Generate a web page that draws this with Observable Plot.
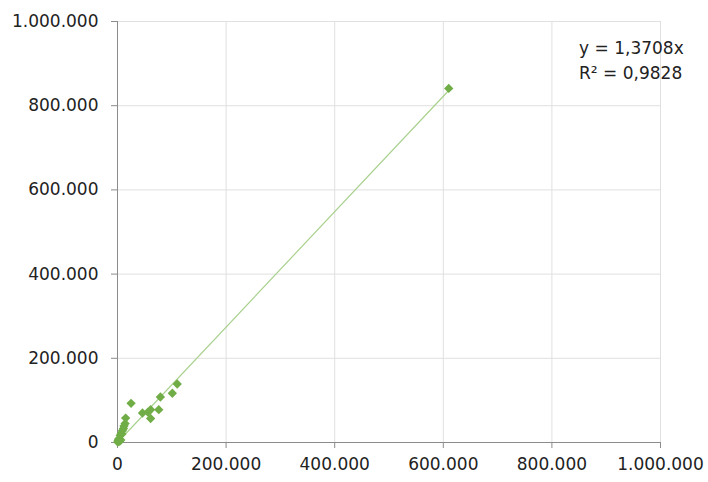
<!DOCTYPE html>
<html>
<head>
<meta charset="utf-8">
<script src="https://cdn.jsdelivr.net/npm/d3@7"></script>
<script src="https://cdn.jsdelivr.net/npm/@observablehq/plot@0.6"></script>
<style>
  html, body { margin: 0; padding: 0; background: #ffffff; }
  #chart svg { display: block; }
</style>
</head>
<body>
<div id="chart"></div>
<script>
// Data
const xValues = [610000, 110000, 101000, 79000, 25000, 76000, 61000, 46000, 56000, 61000, 15000, 14000, 12000, 11000, 9000, 8000, 7000, 5000, 3000, 2000, 1000, 500, 4000, 6000];
const yValues = [841000, 139000, 117000, 108000, 93000, 78000, 78000, 70000, 72000, 57000, 58000, 45000, 39000, 33000, 28000, 20000, 22000, 17000, 9000, 8000, 4000, 1000, 3000, 6000];
const slope = 1.3708;
const rSquared = 0.9828;
const xTicks = [0, 200000, 400000, 600000, 800000, 1000000];
const yTicks = [0, 200000, 400000, 600000, 800000, 1000000];

const points = xValues.map((x, i) => ({x, y: yValues[i]}));
const maxX = d3.max(xValues);
const trend = [{x: 0, y: 0}, {x: maxX, y: slope * maxX}];

const loc = d3.formatLocale({decimal: ",", thousands: ".", grouping: [3], currency: ["", ""]});
const intFmt = loc.format(",d");
const decFmt = loc.format(".4f");
const label = `y = ${decFmt(slope)}x\nR² = ${decFmt(rSquared)}`;

const chart = Plot.plot({
  width: 708,
  height: 482,
  marginLeft: 117,
  marginRight: 48,
  marginTop: 21,
  marginBottom: 40,
  style: {fontFamily: "'DejaVu Sans', sans-serif", fontSize: "17px", background: "#ffffff", color: "#222222"},
  x: {domain: [0, 1000000]},
  y: {domain: [0, 1000000]},
  marks: [
    Plot.gridX(xTicks, {stroke: "#e0e0e0", strokeOpacity: 1}),
    Plot.gridY(yTicks, {stroke: "#e0e0e0", strokeOpacity: 1}),
    Plot.ruleX([0], {stroke: "#8c8c8c"}),
    Plot.ruleY([0], {stroke: "#8c8c8c"}),
    Plot.axisX({ticks: xTicks, tickFormat: intFmt, tickSize: 6, tickPadding: 9, stroke: "#8c8c8c", fill: "#222222", label: null}),
    Plot.axisY({ticks: yTicks, tickFormat: intFmt, tickSize: 6, tickPadding: 13, stroke: "#8c8c8c", fill: "#222222", label: null}),
    Plot.line(trend, {x: "x", y: "y", stroke: "#a9d18e", strokeWidth: 1.2}),
    Plot.dot(points, {x: "x", y: "y", symbol: "diamond2", r: 4.2, fill: "#70ad47", stroke: "none"}),
    Plot.text([label], {x: 850000, y: 913000, text: d => d, textAnchor: "start", lineAnchor: "middle", lineHeight: 1.47, fill: "#222222"})
  ]
});
document.getElementById("chart").appendChild(chart);
</script>
</body>
</html>
